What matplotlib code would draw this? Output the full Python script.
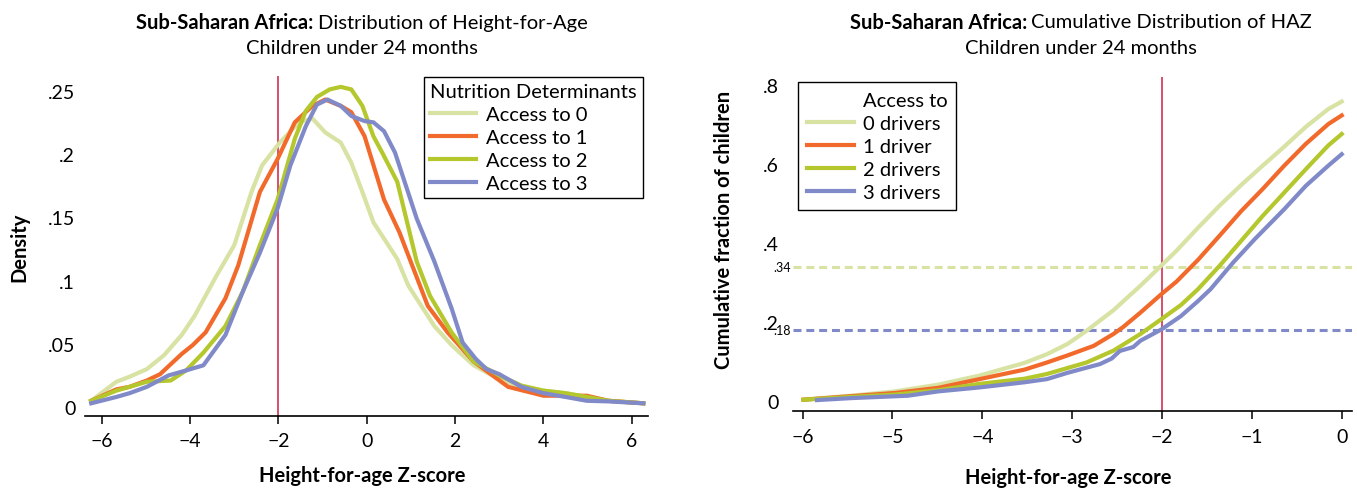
import numpy as np
import matplotlib.pyplot as plt
from matplotlib.lines import Line2D
import matplotlib.transforms as mtransforms

plt.rcParams['font.family'] = ['Lato', 'DejaVu Sans']

# ---- left panel: density of HAZ by number of determinants ----
dens_labels = ['Access to 0', 'Access to 1', 'Access to 2', 'Access to 3']
dens_x0 = [-6.24, -5.67, -5.37, -4.98, -4.59, -4.19, -3.9, -3.4, -3.0, -2.61, -2.37, -1.97, -1.53, -1.23,
           -0.94, -0.59, -0.35, -0.10, 0.15, 0.69, 0.94, 1.53, 1.92, 2.42, 3.0, 3.5, 4.0, 4.5, 4.98, 5.47, 6.26]
dens_y0 = [0.005, 0.020, 0.024, 0.030, 0.041, 0.057, 0.072, 0.104, 0.128, 0.170, 0.191, 0.209, 0.225, 0.228,
           0.217, 0.209, 0.193, 0.170, 0.146, 0.117, 0.096, 0.064, 0.049, 0.033, 0.022, 0.016, 0.013, 0.011,
           0.008, 0.005, 0.003]
dens_x1 = [-6.24, -5.67, -5.37, -4.98, -4.68, -4.19, -3.94, -3.65, -3.2, -2.91, -2.42, -2.02, -1.63, -1.23,
           -0.94, -0.59, -0.35, -0.05, 0.39, 0.74, 1.38, 1.83, 2.42, 2.81, 3.2, 4.0, 4.5, 4.98, 5.47, 6.26]
dens_y1 = [0.005, 0.014, 0.016, 0.021, 0.026, 0.042, 0.049, 0.059, 0.086, 0.112, 0.170, 0.196, 0.225, 0.238,
           0.243, 0.238, 0.233, 0.214, 0.164, 0.138, 0.080, 0.059, 0.036, 0.026, 0.016, 0.009, 0.009, 0.009,
           0.005, 0.003]
dens_x2 = [-6.24, -5.67, -4.98, -4.44, -4.09, -3.70, -3.2, -2.81, -2.42, -2.02, -1.63, -1.38, -1.13, -0.84,
           -0.59, -0.35, -0.10, 0.15, 0.35, 0.69, 1.13, 1.43, 1.92, 2.42, 3.0, 3.5, 4.0, 4.5, 5.47, 6.26]
dens_y2 = [0.005, 0.013, 0.020, 0.021, 0.029, 0.043, 0.064, 0.091, 0.128, 0.164, 0.212, 0.234, 0.245, 0.251,
           0.253, 0.251, 0.238, 0.214, 0.201, 0.178, 0.115, 0.088, 0.059, 0.036, 0.025, 0.017, 0.013, 0.011,
           0.005, 0.003]
dens_x3 = [-6.24, -5.67, -5.37, -4.98, -4.49, -4.09, -3.70, -3.2, -2.81, -2.42, -2.02, -1.73, -1.38, -1.13,
           -0.89, -0.59, -0.35, -0.05, 0.15, 0.39, 0.64, 1.13, 1.53, 1.92, 2.17, 2.47, 2.71, 3.0, 3.5, 4.0,
           4.5, 4.98, 5.47, 6.26]
dens_y3 = [0.003, 0.008, 0.011, 0.016, 0.025, 0.029, 0.033, 0.057, 0.091, 0.122, 0.157, 0.191, 0.222, 0.239,
           0.243, 0.238, 0.230, 0.226, 0.225, 0.218, 0.201, 0.149, 0.115, 0.078, 0.051, 0.038, 0.030, 0.026,
           0.016, 0.011, 0.008, 0.005, 0.0045, 0.003]

# ---- right panel: cumulative distribution ----
cum_labels = ['0 drivers', '1 driver', '2 drivers', '3 drivers']
cum_x0 = [-5.99, -5.46, -4.97, -4.49, -4.03, -3.53, -3.28, -3.05, -2.84, -2.54, -2.24, -2.02, -1.84, -1.60,
          -1.36, -1.12, -0.88, -0.64, -0.40, -0.15, 0.0]
cum_y0 = [0.004, 0.014, 0.025, 0.042, 0.065, 0.097, 0.119, 0.145, 0.178, 0.230, 0.292, 0.340, 0.380, 0.438,
          0.494, 0.546, 0.595, 0.643, 0.693, 0.738, 0.757]
cum_x1 = [-5.99, -5.46, -4.97, -4.49, -4.03, -3.53, -3.28, -3.05, -2.76, -2.54, -2.43, -2.24, -2.01, -1.84,
          -1.60, -1.36, -1.12, -0.88, -0.64, -0.40, -0.15, 0.0]
cum_y1 = [0.004, 0.013, 0.021, 0.034, 0.056, 0.080, 0.098, 0.116, 0.140, 0.170, 0.188, 0.224, 0.270, 0.302,
          0.357, 0.418, 0.480, 0.536, 0.595, 0.650, 0.700, 0.722]
cum_x2 = [-5.99, -5.46, -4.97, -4.49, -4.03, -3.53, -3.28, -2.84, -2.54, -2.24, -2.01, -1.79, -1.60, -1.36,
          -1.12, -0.88, -0.64, -0.40, -0.15, 0.0]
cum_y2 = [0.004, 0.011, 0.017, 0.028, 0.044, 0.057, 0.069, 0.098, 0.128, 0.170, 0.207, 0.243, 0.283, 0.342,
          0.405, 0.468, 0.527, 0.586, 0.646, 0.675]
cum_x3 = [-5.84, -5.46, -4.83, -4.49, -4.03, -3.53, -3.28, -3.05, -2.69, -2.56, -2.47, -2.32, -2.24, -2.01,
          -1.79, -1.60, -1.46, -1.21, -0.97, -0.64, -0.40, -0.15, 0.0]
cum_y3 = [0.003, 0.008, 0.014, 0.025, 0.035, 0.048, 0.056, 0.072, 0.094, 0.108, 0.127, 0.137, 0.153, 0.181,
          0.215, 0.253, 0.283, 0.350, 0.409, 0.485, 0.544, 0.595, 0.624]

ref_levels = [0.34, 0.18]
ref_labels = ['.34', '.18']
stunting_cut = -2

colors = ['#d8e2a3', '#f26a2b', '#b4c72c', '#818ac9']
red = '#d64f6a'
W, H = 1357, 489
fs = 14.5

fig = plt.figure(figsize=(W / 100, H / 100), dpi=100)
# axes placed in pixels (left, bottom spine, right, top)
ax1 = fig.add_axes([85 / W, (H - 416.7) / H, 562.7 / W, (416.7 - 77) / H])
ax2 = fig.add_axes([792.7 / W, (H - 412.3) / H, 559 / W, (412.3 - 78) / H])

for ax in (ax1, ax2):
    for s in ('top', 'right', 'left'):
        ax.spines[s].set_visible(False)
    ax.spines['bottom'].set_linewidth(1.2)
    ax.tick_params(axis='x', direction='out', length=6, width=1.1, labelsize=14, pad=6)
    ax.tick_params(axis='y', length=0, labelsize=14)
ax1.tick_params(axis='y', pad=7)
ax2.tick_params(axis='y', pad=10)

# left
ax1.axvline(stunting_cut, color=red, lw=1.4, zorder=1)
xs = [dens_x0, dens_x1, dens_x2, dens_x3]
ys = [dens_y0, dens_y1, dens_y2, dens_y3]
for x, y, c, lab in zip(xs, ys, colors, dens_labels):
    ax1.plot(x, y, color=c, lw=3, label=lab, solid_joinstyle='round')
ax1.set_xlim(-6.38, 6.36)
ax1.set_ylim(-0.0068, 0.2616)
ax1.set_xticks([-6, -4, -2, 0, 2, 4, 6])
ax1.set_yticks([0, 0.05, 0.1, 0.15, 0.2, 0.25])
ax1.set_yticklabels(['0', '.05', '.1', '.15', '.2', '.25'])
leg1 = ax1.legend(loc='upper right', bbox_to_anchor=(0.991, 0.998), borderaxespad=0,
                  title='Nutrition Determinants', fontsize=fs, title_fontsize=fs,
                  fancybox=False, edgecolor='black', framealpha=1, handlelength=2.3,
                  handletextpad=0.5, labelspacing=0.3, borderpad=0.3, alignment='left')
leg1.get_frame().set_linewidth(1.0)

# right
ax2.axvline(stunting_cut, color=red, lw=1.4, zorder=1)
ax2.axhline(ref_levels[0], color=colors[0], lw=2.2, ls=(0, (2.6, 1.6)), zorder=1)
ax2.axhline(ref_levels[1], color=colors[3], lw=2.2, ls=(0, (2.6, 1.6)), zorder=1)
trans = mtransforms.blended_transform_factory(ax2.transAxes, ax2.transData)
for lv, lb in zip(ref_levels, ref_labels):
    ax2.text(-0.003, lv, lb, transform=trans, ha='right', va='center', fontsize=9)
xs = [cum_x0, cum_x1, cum_x2, cum_x3]
ys = [cum_y0, cum_y1, cum_y2, cum_y3]
handles = [Line2D([], [], color='none')]
for x, y, c, lab in zip(xs, ys, colors, cum_labels):
    h, = ax2.plot(x, y, color=c, lw=3, label=lab, solid_joinstyle='round')
    handles.append(h)
ax2.set_xlim(-6.11, 0.111)
ax2.set_ylim(-0.0253, 0.819)
ax2.set_xticks([-6, -5, -4, -3, -2, -1, 0])
ax2.set_yticks([0, 0.2, 0.4, 0.6, 0.8])
ax2.set_yticklabels(['0', '.2', '.4', '.6', '.8'])
leg2 = ax2.legend(handles, ['Access to'] + cum_labels, loc='upper left', bbox_to_anchor=(0.010, 0.984),
                  borderaxespad=0, fontsize=fs, fancybox=False, edgecolor='black', framealpha=1,
                  handlelength=2.3, handletextpad=0.45, labelspacing=0.3, borderpad=0.45)
leg2.get_frame().set_linewidth(1.0)

# axis labels
fig.text(19.5 / W, 1 - 247.5 / H, 'Density', rotation=90, ha='center', va='center',
         fontsize=fs, fontweight='bold')
fig.text(724 / W, 1 - 230 / H, 'Cumulative fraction of children', rotation=90, ha='center',
         va='center', fontsize=fs, fontweight='bold')
fig.text(362.7 / W, 1 - 476 / H, 'Height-for-age Z-score', ha='center', va='center',
         fontsize=fs, fontweight='bold')
fig.text(1068 / W, 1 - 478 / H, 'Height-for-age Z-score', ha='center', va='center',
         fontsize=fs, fontweight='bold')


def two_part_title(cx, cy, bold, rest, size):
    t1 = fig.text(0, cy, bold, fontsize=size, fontweight='bold', ha='left', va='center')
    t2 = fig.text(0, cy, rest, fontsize=size, ha='left', va='center')
    r = fig.canvas.get_renderer()
    w1 = t1.get_window_extent(r).width / fig.bbox.width
    w2 = t2.get_window_extent(r).width / fig.bbox.width
    sp = 4 / fig.bbox.width
    x0 = cx - (w1 + sp + w2) / 2
    t1.set_x(x0)
    t2.set_x(x0 + w1 + sp)


two_part_title(362 / W, 1 - 23 / H, 'Sub-Saharan Africa:', 'Distribution of Height-for-Age', 14.5)
fig.text(362 / W, 1 - 49 / H, 'Children under 24 months', ha='center', va='center', fontsize=14.5)
two_part_title(1081 / W, 1 - 23 / H, 'Sub-Saharan Africa:', 'Cumulative Distribution of HAZ', 14.5)
fig.text(1081 / W, 1 - 49 / H, 'Children under 24 months', ha='center', va='center', fontsize=14.5)

fig.savefig('out.png', dpi=100)
